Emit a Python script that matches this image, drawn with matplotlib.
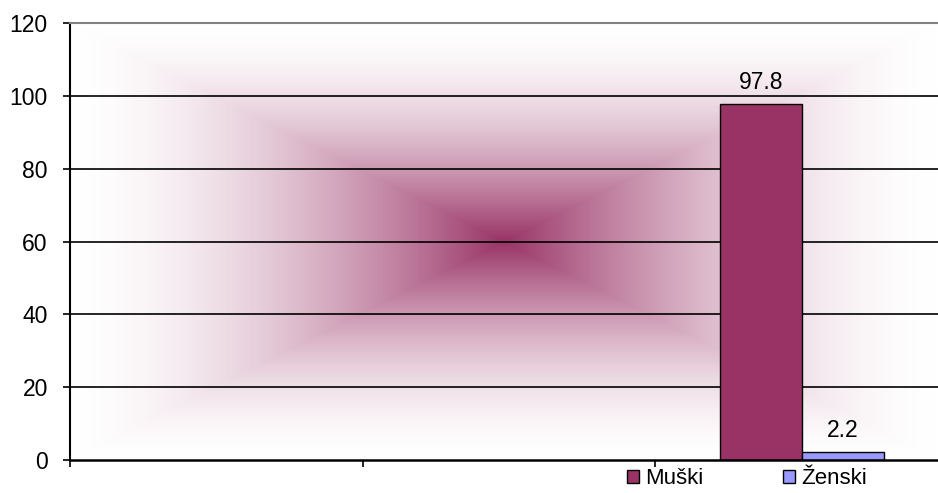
import numpy as np
import matplotlib
matplotlib.use('Agg')
import matplotlib.pyplot as plt
from matplotlib.patches import Patch

plt.rcParams['font.family'] = ['Liberation Sans', 'DejaVu Sans']

# data
categories = ['', '', '']
series_names = ['Muški', 'Ženski']
series_vals = [97.8, 2.2]
series_colors = ['#993366', '#9999FF']
yticks = [0, 20, 40, 60, 80, 100, 120]

fig = plt.figure(figsize=(9.38, 4.93), dpi=100)
fig.patch.set_facecolor('white')
# axes runs a bit past the right edge of the figure, like the original
ax = fig.add_axes([70/938, 1-460/493, 878/938, 437/493])

# rectangular gradient from centre (#993366) to white
nx, ny = 400, 240
xx = np.abs(np.linspace(-1, 1, nx))[None, :]
yy = np.abs(np.linspace(-1, 1, ny))[:, None]
t = np.maximum(xx, yy)
w = (1 - t) ** 1.7
c = np.array(matplotlib.colors.to_rgb('#993366'))
img = w[..., None] * c + (1 - w[..., None]) * 1.0
vis = (938 - 70) / 878
ax.imshow(img, extent=(0, vis, 0, 1), transform=ax.transAxes,
          aspect='auto', interpolation='bilinear', zorder=0)

ax.set_xlim(0, len(categories))
ax.set_ylim(0, 120)

for y in yticks[1:-1]:
    ax.axhline(y, color='black', lw=1.2, zorder=1)

bw = 0.28
xc = len(categories) - 0.5
for i, (name, v, col) in enumerate(zip(series_names, series_vals, series_colors)):
    x = xc + (i - 0.5) * bw
    ax.bar(x, v, width=bw, color=col, edgecolor='black', lw=1.0, zorder=2)
    ax.text(x, v + 2.8, f'{v}', ha='center', va='bottom', fontsize=16.5, zorder=3)

ax.set_yticks(yticks)
ax.set_yticklabels([str(v) for v in yticks], fontsize=16.5)
ax.set_xticks(range(len(categories) + 1))
ax.set_xticklabels([])
ax.tick_params(axis='y', length=5, width=1.2, pad=11, direction='out')
ax.tick_params(axis='x', length=5, width=1.2, direction='out')

ax.spines['right'].set_visible(False)
ax.spines['top'].set_color('#808080')
ax.spines['top'].set_linewidth(1.5)
ax.spines['left'].set_linewidth(1.5)
ax.spines['bottom'].set_linewidth(1.8)

handles = [Patch(facecolor=c_, edgecolor='black', lw=1.0) for c_ in series_colors]
fig.legend(handles, series_names, loc='center', bbox_to_anchor=(747/938, 1-479/493),
           ncol=2, frameon=False, fontsize=16, handlelength=0.55, handleheight=0.55,
           handletextpad=0.25, columnspacing=3.6)

plt.savefig('out.png', dpi=100, facecolor='white')
plt.close()
